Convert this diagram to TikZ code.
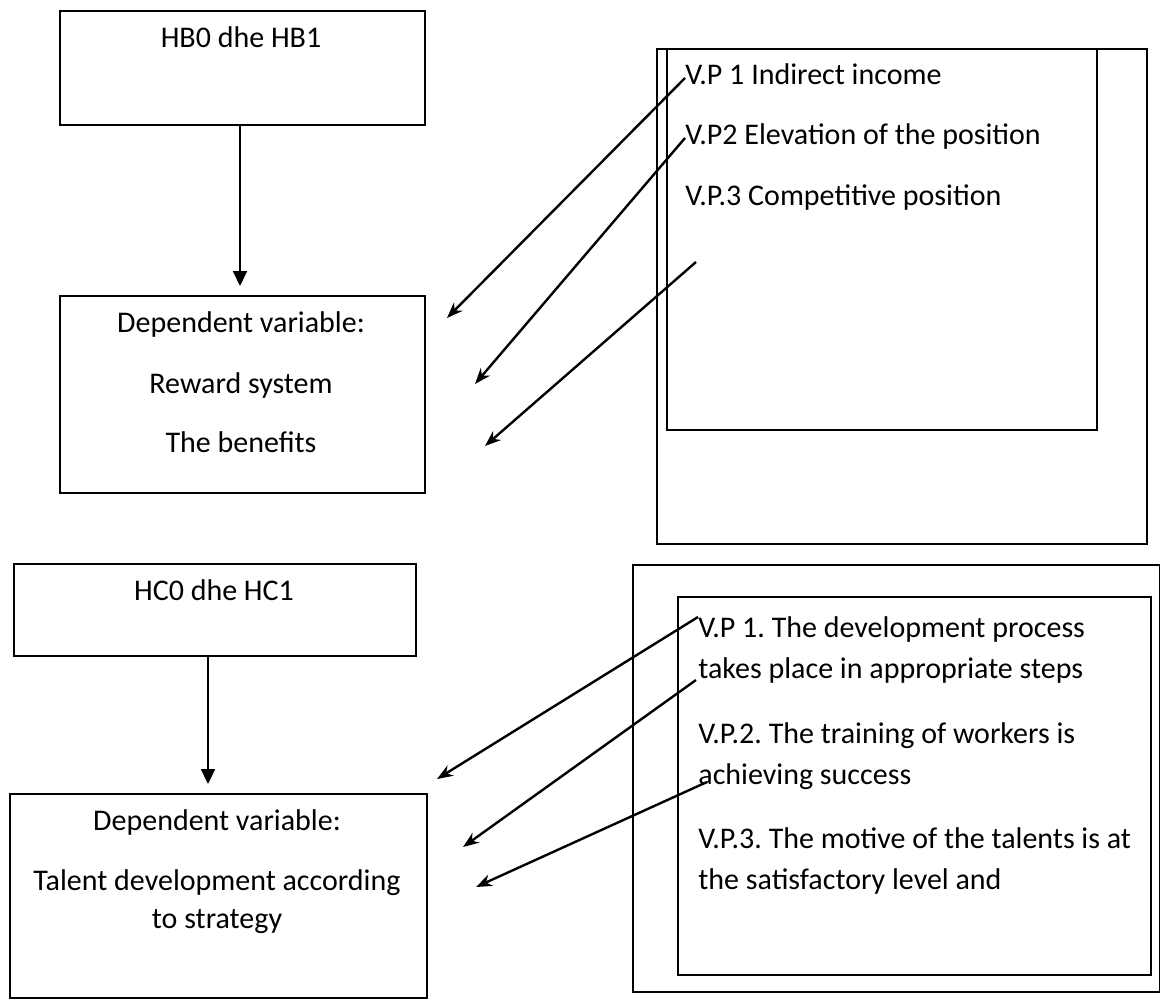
\documentclass[tikz,border=0pt]{standalone}
\usepackage{fontspec}
\setmainfont{Carlito}
\usetikzlibrary{arrows.meta}
\begin{document}
\frenchspacing
\begin{tikzpicture}[x=0.5pt,y=-0.5pt,
  box/.style={draw,line width=1.1pt,anchor=north west,inner sep=0pt},
  lbl/.style={font=\fontsize{15pt}{18pt}\selectfont,inner sep=0pt},
  varrow/.style={line width=1.1pt,-{Triangle[length=7.5pt,width=7pt]}},
  darrow/.style={line width=1.2pt,-{Stealth[length=8pt,width=6pt]}}]
\useasboundingbox (0,0) rectangle (1160,1000);
% top left
\node[box,minimum width=182.5pt,minimum height=57pt] (hb) at (59,10) {};
\node[lbl,anchor=mid] (hbt) at (241,43) {HB0 dhe HB1};
\node[box,minimum width=182.5pt,minimum height=98.5pt] (dv1) at (59,295) {};
\node[lbl,anchor=mid] (dv1a) at (241,328) {Dependent variable:};
\node[lbl,anchor=mid] (dv1b) at (241,389) {Reward system};
\node[lbl,anchor=mid] (dv1c) at (241,448) {The benefits};
\draw[varrow] (240,124) -- (240,286);
% top right
\node[box,minimum width=245pt,minimum height=247.5pt] (ob1) at (656,48) {};
\node[box,minimum width=215pt,minimum height=190.5pt] (ib1) at (666,48) {};
\node[lbl,anchor=mid west] (v1) at (685,80) {V.P 1 Indirect income};
\node[lbl,anchor=mid west] (v2) at (685,140) {V.P2 Elevation of the position};
\node[lbl,anchor=mid west] (v3) at (685,201) {V.P.3 Competitive position};
\coordinate (s3) at (696,262);
\coordinate (e1) at (447,318);
\coordinate (e2) at (475,384);
\coordinate (e3) at (485,446);
\draw[darrow] (685,78) -- (e1);
\draw[darrow] (685,138) -- (e2);
\draw[darrow] (s3) -- (e3);
% bottom left
\node[box,minimum width=201pt,minimum height=46pt] (hc) at (13,563) {};
\node[lbl,anchor=mid] (hct) at (214,596) {HC0 dhe HC1};
\node[box,minimum width=208.5pt,minimum height=102pt] (dv2) at (9,793) {};
\node[lbl,anchor=mid] (dv2a) at (217,826) {Dependent variable:};
\node[lbl,anchor=mid] (dv2b) at (217,886) {Talent development according};
\node[lbl,anchor=mid] (dv2c) at (217,924) {to strategy};
\draw[varrow] (208,655) -- (208,784);
% bottom right
\node[box,minimum width=263.5pt,minimum height=213.5pt] (ob2) at (632,564) {};
\node[box,minimum width=236.5pt,minimum height=189pt] (ib2) at (677,596) {};
\node[lbl,anchor=mid west] (w1) at (698,633) {V.P 1. The development process};
\node[lbl,anchor=mid west] (w1b) at (698,674) {takes place in appropriate steps};
\node[lbl,anchor=mid west] (w2) at (698,739) {V.P.2. The training of workers is};
\node[lbl,anchor=mid west] (w2b) at (698,780) {achieving success};
\node[lbl,anchor=mid west] (w3) at (698,844) {V.P.3. The motive of the talents is at};
\node[lbl,anchor=mid west] (w3b) at (698,885) {the satisfactory level and};
\coordinate (f1) at (437,779);
\coordinate (f2) at (463,847);
\coordinate (f3) at (476,887);
\draw[darrow] (698,617) -- (f1);
\draw[darrow] (696,680) -- (f2);
\draw[darrow] (707,782) -- (f3);
\end{tikzpicture}
\end{document}
